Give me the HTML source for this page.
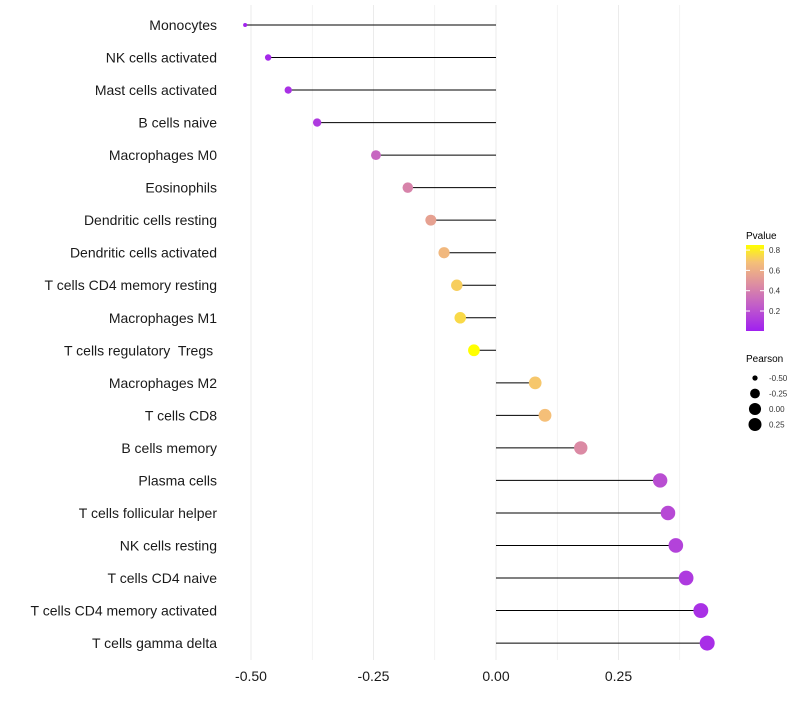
<!DOCTYPE html>
<html><head><meta charset="utf-8"><style>
body{margin:0;background:#fff;font-family:"Liberation Sans",sans-serif}
</style></head><body>
<svg id="chart" width="800" height="700" xmlns="http://www.w3.org/2000/svg" font-family="Liberation Sans, sans-serif">
<defs><linearGradient id="pg" x1="0" y1="1" x2="0" y2="0">
<stop offset="0" stop-color="#A020F0"/><stop offset="0.3" stop-color="#C25EC8"/><stop offset="0.55" stop-color="#DE8FA0"/><stop offset="0.8" stop-color="#F5C078"/><stop offset="1" stop-color="#FFFF00"/></linearGradient></defs>
<g id="grid"></g>
<g id="marks"></g>
<g id="labels"></g>
<g id="xt"></g>
<g>
<text x="746" y="239" font-size="10">Pvalue</text>
<rect x="746" y="245" width="18" height="86" fill="url(#pg)"/>
<g id="cbt"></g>
</g>
<g id="sizeleg">
<text x="746" y="362" font-size="10">Pearson</text>
</g>
</svg>
<script>
const cells=["Monocytes","NK cells activated","Mast cells activated","B cells naive","Macrophages M0","Eosinophils","Dendritic cells resting","Dendritic cells activated","T cells CD4 memory resting","Macrophages M1","T cells regulatory  Tregs ","Macrophages M2","T cells CD8","B cells memory","Plasma cells","T cells follicular helper","NK cells resting","T cells CD4 naive","T cells CD4 memory activated","T cells gamma delta"];
const pearson=[-0.512,-0.465,-0.424,-0.365,-0.245,-0.18,-0.133,-0.106,-0.08,-0.073,-0.045,0.08,0.10,0.173,0.335,0.351,0.367,0.388,0.418,0.431];
const pvalue=[0.03,0.05,0.08,0.12,0.3,0.42,0.55,0.65,0.72,0.75,0.85,0.7,0.68,0.45,0.2,0.18,0.15,0.12,0.08,0.07];
const xTicks=[-0.5,-0.25,0,0.25];
const xTickLabels=["-0.50","-0.25","0.00","0.25"];
const cbTicks=[0.2,0.4,0.6,0.8];
const sizeLegend=[-0.5,-0.25,0,0.25];
const sizeLegendLabels=["-0.50","-0.25","0.00","0.25"];
const NS="http://www.w3.org/2000/svg";
const X=v=>496+v*490;
const Y=i=>25+i*32.53;
const pMin=0.013,pMax=0.85;
const CB=p=>330-(p-pMin)/(pMax-pMin)*85;
const sMin=-0.512,sMax=0.431;
const R=v=>2+5.5*Math.sqrt(Math.max(0,(v-sMin)/(sMax-sMin)));
const stops=[[0,[160,32,240]],[0.3,[194,94,200]],[0.55,[222,143,160]],[0.8,[245,192,120]],[1,[255,255,0]]];
function col(p){let t=Math.max(0,Math.min(1,(p-pMin)/(pMax-pMin)));for(let k=1;k<stops.length;k++){if(t<=stops[k][0]){const a=stops[k-1],b=stops[k],f=(t-a[0])/(b[0]-a[0]);return "rgb("+a[1].map((c,j)=>Math.round(c+(b[1][j]-c)*f)).join(",")+")";}}return "rgb(255,255,0)";}
function mk(t,a,p){const e=document.createElementNS(NS,t);for(const k in a)e.setAttribute(k,a[k]);p.appendChild(e);return e;}
const grid=document.getElementById('grid');
for(let v=-0.5;v<=0.376;v+=0.125){const l=mk('line',{x1:X(v),x2:X(v),y1:5,y2:660,stroke:'#ebebeb','stroke-width':Math.abs((v*4)%1)<0.01?1:0.6},grid);

}
const marks=document.getElementById('marks'),labs=document.getElementById('labels');
cells.forEach((c,i)=>{
const s=mk('line',{x1:X(0),x2:X(pearson[i]),y1:Y(i),y2:Y(i),stroke:'#000','stroke-width':1},marks);


const d=mk('circle',{cx:X(pearson[i]),cy:Y(i),r:R(pearson[i]),fill:col(pvalue[i])},marks);


const t=mk('text',{x:217,y:Y(i)+5,'text-anchor':'end','font-size':14,fill:'#1a1a1a',style:'white-space:pre'},labs);t.textContent=c;


});
const xt=document.getElementById('xt');
xTicks.forEach((v,i)=>{const t=mk('text',{x:X(v),y:681,'text-anchor':'middle','font-size':14,fill:'#1a1a1a'},xt);t.textContent=xTickLabels[i];

});
const cbt=document.getElementById('cbt');
cbTicks.forEach(p=>{mk('line',{x1:746,x2:750,y1:CB(p),y2:CB(p),stroke:'#fff'},cbt);mk('line',{x1:760,x2:764,y1:CB(p),y2:CB(p),stroke:'#fff'},cbt);
const t=mk('text',{x:769,y:CB(p)+3,'font-size':8,fill:'#333'},cbt);t.textContent=p.toFixed(1);

});
const sl=document.getElementById('sizeleg');
sizeLegend.forEach((v,i)=>{const y=378+i*15.5;const c=mk('circle',{cx:755,cy:y,r:Math.min(R(v),6.5),fill:'#000'},sl);


const t=mk('text',{x:769,y:y+3,'font-size':8,fill:'#333'},sl);t.textContent=sizeLegendLabels[i];

});
</script>
</body></html>
